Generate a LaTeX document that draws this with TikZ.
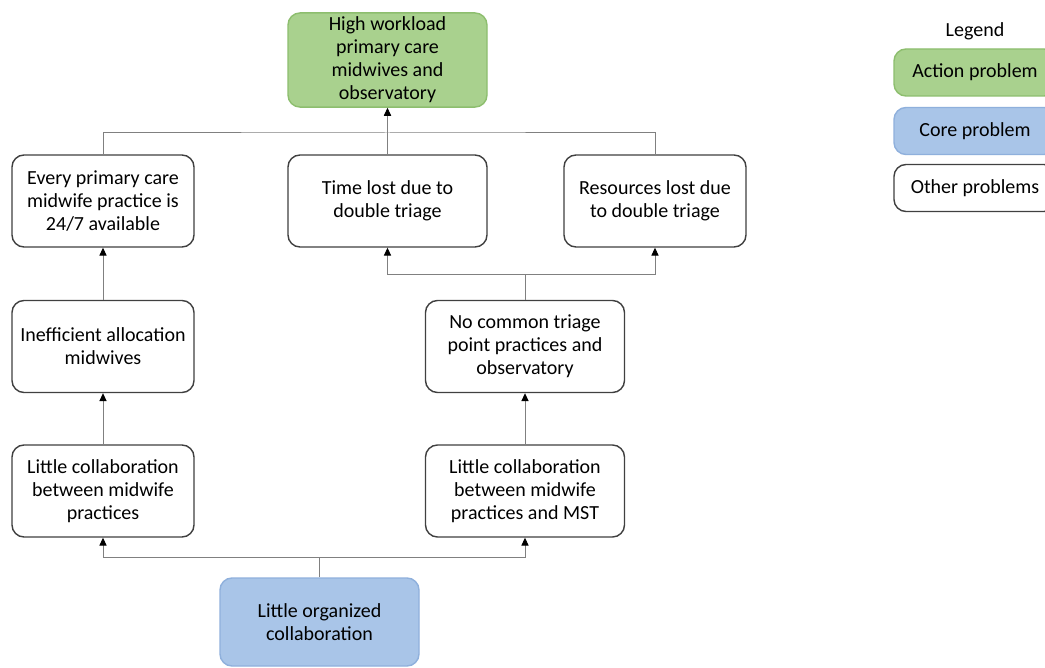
\documentclass[tikz,border=0pt]{standalone}
\usepackage{fontspec}
\setmainfont{Carlito}
\usetikzlibrary{arrows.meta}
\definecolor{actgreen}{HTML}{A9D18E}
\definecolor{actedge}{HTML}{8DBE6E}
\definecolor{coreblue}{HTML}{A9C5E8}
\definecolor{coreedge}{HTML}{8FB0DC}
\tikzset{box/.style={rectangle,draw=black!75,line width=0.7pt,rounded corners=6pt,align=center,inner sep=2pt,minimum width=91pt,minimum height=46pt,font=\fontsize{10pt}{11.5pt}\selectfont},
  widebox/.style={box,minimum width=99.5pt},
  action/.style={widebox,fill=actgreen,draw=actedge},
  core/.style={widebox,fill=coreblue,draw=coreedge},
  legbox/.style={box,minimum width=81pt,minimum height=23.5pt},
  conn/.style={draw=black!50,line width=0.5pt},
  line/.style={conn,-{Triangle[black,length=4pt,width=3.6pt]}}}

\begin{document}
\begin{tikzpicture}[x=0.5pt,y=-0.5pt]
\clip (0,0) rectangle (1045,668);
\fill[white] (0,0) rectangle (1045,668);
% problem tree
\node[action] (high) at (387.5,60) {High workload\\primary care\\midwives and\\observatory};
\node[box] (every) at (103,201) {Every primary care\\midwife practice is\\24/7 available};
\node[widebox] (time) at (387.5,201) {Time lost due to\\double triage};
\node[box] (res) at (655,201) {Resources lost due\\to double triage};
\node[box] (ineff) at (103,346.5) {Inefficient allocation\\midwives};
\node[widebox] (nocommon) at (525,346.5) {No common triage\\point practices and\\observatory};
\node[box] (lcm) at (103,491) {Little collaboration\\between midwife\\practices};
\node[widebox] (lcmst) at (525,491) {Little collaboration\\between midwife\\practices and MST};
\node[core, minimum height=44pt] (core) at (319.5,622) {Little organized\\collaboration};
% junctions
\coordinate (jtop) at (387.5,133);
\coordinate (jmid) at (525,275);
\coordinate (jbot) at (319.5,557);
\draw[conn] (every.north) |- (jtop) -| (res.north);
\draw[line] (time.north) -- (high.south);
\draw[conn] (nocommon.north) -- (jmid);
\draw[line] (jmid) -| (time.south);
\draw[line] (jmid) -| (res.south);
\draw[line] (ineff.north) -- (every.south);
\draw[line] (lcm.north) -- (ineff.south);
\draw[line] (lcmst.north) -- (nocommon.south);
\draw[conn] (core.north) -- (jbot);
\draw[line] (jbot) -| (lcm.south);
\draw[line] (jbot) -| (lcmst.south);
% legend
\node[font=\fontsize{10pt}{11.5pt}\selectfont] (legend) at (975,31) {Legend};
\node[legbox,fill=actgreen,draw=actedge] (legact) at (975,72.5) {Action problem};
\node[legbox,fill=coreblue,draw=coreedge] (legcore) at (975,131) {Core problem};
\node[legbox] (legother) at (975,188) {Other problems};
\end{tikzpicture}
\end{document}
